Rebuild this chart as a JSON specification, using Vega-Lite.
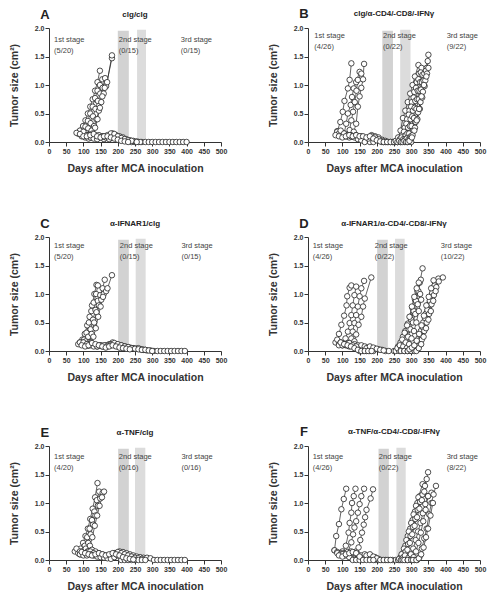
{
"$schema":"https://vega.github.io/schema/vega-lite/v6.json",
"padding":{"left":9,"top":7,"right":2,"bottom":2},
"config":{"font":"Liberation Sans","view":{"stroke":null},
"axis":{"grid":false,"domainColor":"#333","tickColor":"#333","labelColor":"#333","labelFontWeight":"bold","labelFontSize":7,"labelFlush":false,"labelOverlap":false,"tickSize":4,"labelPadding":1,"titleFontWeight":"bold","titleFontSize":10.5,"titleColor":"#333"},
"axisY":{"titlePadding":15},"axisX":{"titlePadding":9}},
"spacing":{"row":43,"column":41},
"columns":2,
"datasets":{
"A":[
{"id":1,"day":85,"size":0.15},{"id":1,"day":92,"size":0.2},{"id":1,"day":99,"size":0.28},{"id":1,"day":106,"size":0.38},{"id":1,"day":113,"size":0.5},{"id":1,"day":120,"size":0.62},{"id":1,"day":127,"size":0.75},{"id":1,"day":134,"size":0.9},{"id":1,"day":141,"size":1.05},{"id":1,"day":148,"size":1.25},
{"id":2,"day":92,"size":0.17},{"id":2,"day":99,"size":0.2},{"id":2,"day":106,"size":0.27},{"id":2,"day":113,"size":0.37},{"id":2,"day":120,"size":0.5},{"id":2,"day":127,"size":0.62},{"id":2,"day":134,"size":0.77},{"id":2,"day":141,"size":0.9},{"id":2,"day":148,"size":1.0},{"id":2,"day":155,"size":1.1},
{"id":3,"day":100,"size":0.12},{"id":3,"day":107,"size":0.17},{"id":3,"day":114,"size":0.24},{"id":3,"day":121,"size":0.33},{"id":3,"day":128,"size":0.45},{"id":3,"day":135,"size":0.58},{"id":3,"day":142,"size":0.72},{"id":3,"day":149,"size":0.85},{"id":3,"day":156,"size":0.95},{"id":3,"day":163,"size":1.12},
{"id":4,"day":110,"size":0.1},{"id":4,"day":117,"size":0.13},{"id":4,"day":124,"size":0.2},{"id":4,"day":131,"size":0.28},{"id":4,"day":138,"size":0.4},{"id":4,"day":145,"size":0.55},{"id":4,"day":152,"size":0.7},{"id":4,"day":159,"size":0.85},{"id":4,"day":166,"size":0.98},{"id":4,"day":183,"size":1.47},
{"id":5,"day":120,"size":0.12},{"id":5,"day":127,"size":0.15},{"id":5,"day":134,"size":0.25},{"id":5,"day":141,"size":0.4},{"id":5,"day":148,"size":0.6},{"id":5,"day":155,"size":0.8},{"id":5,"day":162,"size":0.95},{"id":5,"day":169,"size":1.05},{"id":5,"day":183,"size":1.52},
{"id":6,"day":85,"size":0.15},{"id":6,"day":95,"size":0.12},{"id":6,"day":105,"size":0.1},{"id":6,"day":115,"size":0.08},{"id":6,"day":125,"size":0.1},{"id":6,"day":135,"size":0.12},{"id":6,"day":145,"size":0.1},{"id":6,"day":155,"size":0.1},{"id":6,"day":165,"size":0.08},{"id":6,"day":175,"size":0.1},{"id":6,"day":185,"size":0.15},{"id":6,"day":195,"size":0.12},{"id":6,"day":205,"size":0.08},{"id":6,"day":215,"size":0.05},{"id":6,"day":225,"size":0.03},{"id":6,"day":235,"size":0.02},{"id":6,"day":245,"size":0.01},{"id":6,"day":250,"size":0},{"id":6,"day":260,"size":0},{"id":6,"day":270,"size":0},{"id":6,"day":280,"size":0},{"id":6,"day":290,"size":0},{"id":6,"day":300,"size":0},{"id":6,"day":310,"size":0},{"id":6,"day":320,"size":0},{"id":6,"day":330,"size":0},{"id":6,"day":340,"size":0},{"id":6,"day":350,"size":0},{"id":6,"day":360,"size":0},{"id":6,"day":370,"size":0},{"id":6,"day":380,"size":0},{"id":6,"day":390,"size":0},{"id":6,"day":400,"size":0},
{"id":7,"day":90,"size":0.2},{"id":7,"day":100,"size":0.15},{"id":7,"day":110,"size":0.12},{"id":7,"day":120,"size":0.1},{"id":7,"day":130,"size":0.1},{"id":7,"day":140,"size":0.08},{"id":7,"day":150,"size":0.1},{"id":7,"day":160,"size":0.05},{"id":7,"day":170,"size":0.08},{"id":7,"day":180,"size":0.12},{"id":7,"day":190,"size":0.1},{"id":7,"day":200,"size":0.08},{"id":7,"day":210,"size":0.06},{"id":7,"day":220,"size":0.04},{"id":7,"day":230,"size":0.02},{"id":7,"day":240,"size":0},
{"id":8,"day":95,"size":0.1},{"id":8,"day":105,"size":0.08},{"id":8,"day":115,"size":0.06},{"id":8,"day":125,"size":0.08},{"id":8,"day":135,"size":0.1},{"id":8,"day":145,"size":0.12},{"id":8,"day":155,"size":0.1},{"id":8,"day":165,"size":0.08},{"id":8,"day":175,"size":0.05},{"id":8,"day":185,"size":0.08},{"id":8,"day":195,"size":0.1},{"id":8,"day":205,"size":0.1},{"id":8,"day":215,"size":0.08},{"id":8,"day":225,"size":0.05},{"id":8,"day":235,"size":0.03},{"id":8,"day":245,"size":0.02},{"id":8,"day":255,"size":0.01},{"id":8,"day":265,"size":0},
{"id":9,"day":100,"size":0.18},{"id":9,"day":110,"size":0.12},{"id":9,"day":120,"size":0.08},{"id":9,"day":130,"size":0.06},{"id":9,"day":140,"size":0.05},{"id":9,"day":150,"size":0.08},{"id":9,"day":160,"size":0.1},{"id":9,"day":170,"size":0.12},{"id":9,"day":180,"size":0.15},{"id":9,"day":190,"size":0.14},{"id":9,"day":200,"size":0.1},{"id":9,"day":210,"size":0.07},{"id":9,"day":220,"size":0.05},{"id":9,"day":230,"size":0.03},{"id":9,"day":240,"size":0.02},{"id":9,"day":255,"size":0},
{"id":10,"day":80,"size":0.16},{"id":10,"day":90,"size":0.14},{"id":10,"day":100,"size":0.1},{"id":10,"day":110,"size":0.1},{"id":10,"day":120,"size":0.12},{"id":10,"day":130,"size":0.14},{"id":10,"day":140,"size":0.1},{"id":10,"day":150,"size":0.08},{"id":10,"day":160,"size":0.1},{"id":10,"day":170,"size":0.1},{"id":10,"day":180,"size":0.08},{"id":10,"day":190,"size":0.06},{"id":10,"day":200,"size":0.04},{"id":10,"day":210,"size":0.02},{"id":10,"day":220,"size":0.01},{"id":10,"day":230,"size":0}
],
"B":[
{"id":1,"day":85,"size":0.19},{"id":1,"day":94,"size":0.35},{"id":1,"day":101,"size":0.53},{"id":1,"day":106,"size":0.72},{"id":1,"day":116,"size":0.94},{"id":1,"day":121,"size":1.09},{"id":1,"day":126,"size":1.38},
{"id":2,"day":105,"size":0.15},{"id":2,"day":111,"size":0.32},{"id":2,"day":116,"size":0.5},{"id":2,"day":124,"size":0.65},{"id":2,"day":128,"size":0.79},{"id":2,"day":133,"size":0.94},{"id":2,"day":140,"size":1.05},{"id":2,"day":150,"size":1.23},
{"id":3,"day":115,"size":0.12},{"id":3,"day":121,"size":0.21},{"id":3,"day":126,"size":0.38},{"id":3,"day":131,"size":0.53},{"id":3,"day":136,"size":0.7},{"id":3,"day":141,"size":0.9},{"id":3,"day":145,"size":1.09},{"id":3,"day":155,"size":1.2},
{"id":4,"day":125,"size":0.1},{"id":4,"day":133,"size":0.18},{"id":4,"day":140,"size":0.32},{"id":4,"day":145,"size":0.62},{"id":4,"day":150,"size":0.8},{"id":4,"day":155,"size":0.95},{"id":4,"day":160,"size":1.1},{"id":4,"day":163,"size":1.37},
{"id":5,"day":85,"size":0.18},{"id":5,"day":95,"size":0.15},{"id":5,"day":105,"size":0.12},{"id":5,"day":115,"size":0.1},{"id":5,"day":125,"size":0.12},{"id":5,"day":135,"size":0.1},{"id":5,"day":145,"size":0.08},{"id":5,"day":155,"size":0.1},{"id":5,"day":165,"size":0.05},{"id":5,"day":175,"size":0.08},{"id":5,"day":185,"size":0.12},{"id":5,"day":195,"size":0.1},{"id":5,"day":205,"size":0.08},{"id":5,"day":215,"size":0.04},{"id":5,"day":225,"size":0.02},{"id":5,"day":235,"size":0},{"id":5,"day":245,"size":0},{"id":5,"day":255,"size":0},
{"id":6,"day":90,"size":0.15},{"id":6,"day":100,"size":0.12},{"id":6,"day":110,"size":0.1},{"id":6,"day":120,"size":0.08},{"id":6,"day":130,"size":0.1},{"id":6,"day":140,"size":0.12},{"id":6,"day":150,"size":0.1},{"id":6,"day":160,"size":0.08},{"id":6,"day":170,"size":0.03},{"id":6,"day":180,"size":0},{"id":6,"day":190,"size":0},{"id":6,"day":200,"size":0.05},{"id":6,"day":210,"size":0.03},{"id":6,"day":220,"size":0},{"id":6,"day":230,"size":0},{"id":6,"day":240,"size":0},{"id":6,"day":250,"size":0},{"id":6,"day":260,"size":0},{"id":6,"day":270,"size":0},
{"id":7,"day":95,"size":0.2},{"id":7,"day":105,"size":0.15},{"id":7,"day":115,"size":0.12},{"id":7,"day":125,"size":0.1},{"id":7,"day":135,"size":0.08},{"id":7,"day":145,"size":0.05},{"id":7,"day":155,"size":0.03},{"id":7,"day":165,"size":0},{"id":7,"day":175,"size":0.06},{"id":7,"day":185,"size":0.1},{"id":7,"day":195,"size":0.08},{"id":7,"day":205,"size":0.05},{"id":7,"day":215,"size":0},{"id":7,"day":225,"size":0},
{"id":8,"day":80,"size":0.12},{"id":8,"day":90,"size":0.1},{"id":8,"day":100,"size":0.08},{"id":8,"day":110,"size":0.1},{"id":8,"day":120,"size":0.12},{"id":8,"day":130,"size":0.1},{"id":8,"day":140,"size":0.12},{"id":8,"day":150,"size":0.1},{"id":8,"day":160,"size":0.1},{"id":8,"day":170,"size":0.08},{"id":8,"day":180,"size":0.1},{"id":8,"day":190,"size":0.06},{"id":8,"day":200,"size":0.03},{"id":8,"day":210,"size":0.01},{"id":8,"day":220,"size":0},{"id":8,"day":230,"size":0},{"id":8,"day":240,"size":0},{"id":8,"day":250,"size":0},{"id":8,"day":260,"size":0},{"id":8,"day":270,"size":0},{"id":8,"day":280,"size":0},{"id":8,"day":290,"size":0},{"id":8,"day":300,"size":0},
{"id":11,"day":255,"size":0.02},{"id":11,"day":262,"size":0.08},{"id":11,"day":269,"size":0.2},{"id":11,"day":276,"size":0.42},{"id":11,"day":283,"size":0.55},{"id":11,"day":290,"size":0.7},{"id":11,"day":297,"size":0.85},{"id":11,"day":304,"size":1.0},{"id":11,"day":311,"size":1.15},{"id":11,"day":321,"size":1.35},
{"id":12,"day":260,"size":0},{"id":12,"day":267,"size":0.05},{"id":12,"day":274,"size":0.12},{"id":12,"day":281,"size":0.25},{"id":12,"day":288,"size":0.4},{"id":12,"day":295,"size":0.55},{"id":12,"day":302,"size":0.7},{"id":12,"day":309,"size":0.88},{"id":12,"day":316,"size":1.05},{"id":12,"day":323,"size":1.2},{"id":12,"day":330,"size":1.3},
{"id":13,"day":265,"size":0.02},{"id":13,"day":272,"size":0.08},{"id":13,"day":279,"size":0.18},{"id":13,"day":286,"size":0.32},{"id":13,"day":293,"size":0.48},{"id":13,"day":300,"size":0.62},{"id":13,"day":307,"size":0.78},{"id":13,"day":314,"size":0.95},{"id":13,"day":321,"size":1.1},{"id":13,"day":328,"size":1.22},
{"id":14,"day":270,"size":0},{"id":14,"day":277,"size":0.05},{"id":14,"day":284,"size":0.12},{"id":14,"day":291,"size":0.25},{"id":14,"day":298,"size":0.4},{"id":14,"day":305,"size":0.55},{"id":14,"day":312,"size":0.72},{"id":14,"day":319,"size":0.9},{"id":14,"day":326,"size":1.05},{"id":14,"day":333,"size":1.18},
{"id":15,"day":275,"size":0},{"id":15,"day":282,"size":0.05},{"id":15,"day":289,"size":0.15},{"id":15,"day":296,"size":0.28},{"id":15,"day":303,"size":0.45},{"id":15,"day":310,"size":0.6},{"id":15,"day":317,"size":0.75},{"id":15,"day":324,"size":0.9},{"id":15,"day":331,"size":1.05},{"id":15,"day":338,"size":1.2},{"id":15,"day":345,"size":1.3},
{"id":16,"day":280,"size":0.02},{"id":16,"day":287,"size":0.06},{"id":16,"day":294,"size":0.15},{"id":16,"day":301,"size":0.28},{"id":16,"day":308,"size":0.42},{"id":16,"day":315,"size":0.58},{"id":16,"day":322,"size":0.75},{"id":16,"day":329,"size":0.92},{"id":16,"day":336,"size":1.08},{"id":16,"day":343,"size":1.25},{"id":16,"day":350,"size":1.53},
{"id":17,"day":285,"size":0},{"id":17,"day":292,"size":0.04},{"id":17,"day":299,"size":0.1},{"id":17,"day":306,"size":0.2},{"id":17,"day":313,"size":0.35},{"id":17,"day":320,"size":0.52},{"id":17,"day":327,"size":0.7},{"id":17,"day":334,"size":0.88},{"id":17,"day":341,"size":1.08},{"id":17,"day":348,"size":1.42},
{"id":18,"day":290,"size":0},{"id":18,"day":297,"size":0.05},{"id":18,"day":304,"size":0.12},{"id":18,"day":311,"size":0.25},{"id":18,"day":318,"size":0.4},{"id":18,"day":325,"size":0.58},{"id":18,"day":332,"size":0.78},{"id":18,"day":339,"size":0.98},{"id":18,"day":346,"size":1.2},
{"id":19,"day":295,"size":0.02},{"id":19,"day":302,"size":0.08},{"id":19,"day":309,"size":0.2},{"id":19,"day":316,"size":0.38},{"id":19,"day":323,"size":0.58},{"id":19,"day":330,"size":0.8},{"id":19,"day":337,"size":1.0},{"id":19,"day":344,"size":1.15},{"id":19,"day":350,"size":1.3}
],
"C":[
{"id":1,"day":90,"size":0.15},{"id":1,"day":97,"size":0.2},{"id":1,"day":104,"size":0.3},{"id":1,"day":111,"size":0.45},{"id":1,"day":118,"size":0.6},{"id":1,"day":125,"size":0.8},{"id":1,"day":132,"size":1.0},{"id":1,"day":138,"size":1.16},
{"id":2,"day":95,"size":0.12},{"id":2,"day":102,"size":0.2},{"id":2,"day":109,"size":0.32},{"id":2,"day":116,"size":0.5},{"id":2,"day":123,"size":0.7},{"id":2,"day":130,"size":0.85},{"id":2,"day":137,"size":1.0},{"id":2,"day":142,"size":1.15},
{"id":3,"day":100,"size":0.12},{"id":3,"day":107,"size":0.17},{"id":3,"day":114,"size":0.25},{"id":3,"day":121,"size":0.38},{"id":3,"day":128,"size":0.55},{"id":3,"day":135,"size":0.72},{"id":3,"day":142,"size":0.88},{"id":3,"day":149,"size":0.98},{"id":3,"day":156,"size":1.1},{"id":3,"day":162,"size":1.25},
{"id":4,"day":110,"size":0.1},{"id":4,"day":117,"size":0.15},{"id":4,"day":124,"size":0.3},{"id":4,"day":131,"size":0.5},{"id":4,"day":138,"size":0.68},{"id":4,"day":145,"size":0.8},{"id":4,"day":152,"size":0.9},{"id":4,"day":159,"size":1.0},{"id":4,"day":166,"size":1.05},
{"id":5,"day":115,"size":0.1},{"id":5,"day":122,"size":0.15},{"id":5,"day":129,"size":0.25},{"id":5,"day":136,"size":0.4},{"id":5,"day":143,"size":0.6},{"id":5,"day":150,"size":0.78},{"id":5,"day":157,"size":0.95},{"id":5,"day":170,"size":1.1},{"id":5,"day":183,"size":1.33},
{"id":6,"day":85,"size":0.12},{"id":6,"day":95,"size":0.15},{"id":6,"day":105,"size":0.12},{"id":6,"day":115,"size":0.1},{"id":6,"day":125,"size":0.12},{"id":6,"day":135,"size":0.1},{"id":6,"day":145,"size":0.1},{"id":6,"day":155,"size":0.08},{"id":6,"day":165,"size":0.1},{"id":6,"day":175,"size":0.12},{"id":6,"day":185,"size":0.15},{"id":6,"day":195,"size":0.12},{"id":6,"day":205,"size":0.1},{"id":6,"day":215,"size":0.08},{"id":6,"day":225,"size":0.07},{"id":6,"day":235,"size":0.06},{"id":6,"day":245,"size":0.05},{"id":6,"day":255,"size":0.04},{"id":6,"day":265,"size":0.03},{"id":6,"day":275,"size":0.02},{"id":6,"day":285,"size":0.01},{"id":6,"day":295,"size":0.01},{"id":6,"day":305,"size":0},{"id":6,"day":315,"size":0},{"id":6,"day":325,"size":0},{"id":6,"day":335,"size":0},{"id":6,"day":345,"size":0},{"id":6,"day":355,"size":0},{"id":6,"day":365,"size":0},{"id":6,"day":375,"size":0},{"id":6,"day":385,"size":0},{"id":6,"day":395,"size":0},
{"id":7,"day":90,"size":0.15},{"id":7,"day":100,"size":0.12},{"id":7,"day":110,"size":0.1},{"id":7,"day":120,"size":0.12},{"id":7,"day":130,"size":0.1},{"id":7,"day":140,"size":0.08},{"id":7,"day":150,"size":0.1},{"id":7,"day":160,"size":0.08},{"id":7,"day":170,"size":0.1},{"id":7,"day":180,"size":0.12},{"id":7,"day":190,"size":0.1},{"id":7,"day":200,"size":0.08},{"id":7,"day":210,"size":0.1},{"id":7,"day":220,"size":0.08},{"id":7,"day":230,"size":0.06},{"id":7,"day":240,"size":0.05},{"id":7,"day":250,"size":0.04},{"id":7,"day":260,"size":0.05},{"id":7,"day":270,"size":0.03},{"id":7,"day":280,"size":0.02},
{"id":8,"day":100,"size":0.15},{"id":8,"day":110,"size":0.12},{"id":8,"day":120,"size":0.1},{"id":8,"day":130,"size":0.08},{"id":8,"day":140,"size":0.08},{"id":8,"day":150,"size":0.1},{"id":8,"day":160,"size":0.1},{"id":8,"day":170,"size":0.08},{"id":8,"day":180,"size":0.1},{"id":8,"day":190,"size":0.14},{"id":8,"day":200,"size":0.12},{"id":8,"day":210,"size":0.1},{"id":8,"day":220,"size":0.08},{"id":8,"day":230,"size":0.07},{"id":8,"day":240,"size":0.05},{"id":8,"day":250,"size":0.04},{"id":8,"day":260,"size":0.03},{"id":8,"day":270,"size":0.02},{"id":8,"day":280,"size":0.02},{"id":8,"day":290,"size":0.01},{"id":8,"day":300,"size":0},
{"id":9,"day":95,"size":0.1},{"id":9,"day":105,"size":0.08},{"id":9,"day":115,"size":0.1},{"id":9,"day":125,"size":0.14},{"id":9,"day":135,"size":0.12},{"id":9,"day":145,"size":0.1},{"id":9,"day":155,"size":0.08},{"id":9,"day":165,"size":0.06},{"id":9,"day":175,"size":0.08},{"id":9,"day":185,"size":0.1},{"id":9,"day":195,"size":0.08},{"id":9,"day":205,"size":0.06},{"id":9,"day":215,"size":0.05},{"id":9,"day":225,"size":0.04},{"id":9,"day":235,"size":0.03}
],
"D":[
{"id":1,"day":85,"size":0.15},{"id":1,"day":90,"size":0.3},{"id":1,"day":97,"size":0.46},{"id":1,"day":105,"size":0.62},{"id":1,"day":112,"size":0.8},{"id":1,"day":114,"size":0.96},{"id":1,"day":121,"size":1.11},{"id":1,"day":126,"size":1.15},
{"id":2,"day":97,"size":0.14},{"id":2,"day":109,"size":0.22},{"id":2,"day":116,"size":0.34},{"id":2,"day":121,"size":0.49},{"id":2,"day":126,"size":0.63},{"id":2,"day":130,"size":0.8},{"id":2,"day":135,"size":0.98},{"id":2,"day":140,"size":1.13},
{"id":3,"day":116,"size":0.14},{"id":3,"day":126,"size":0.22},{"id":3,"day":130,"size":0.34},{"id":3,"day":135,"size":0.49},{"id":3,"day":140,"size":0.63},{"id":3,"day":145,"size":0.78},{"id":3,"day":150,"size":0.96},{"id":3,"day":155,"size":1.1},{"id":3,"day":163,"size":1.23},
{"id":4,"day":128,"size":0.1},{"id":4,"day":135,"size":0.17},{"id":4,"day":140,"size":0.29},{"id":4,"day":147,"size":0.46},{"id":4,"day":155,"size":0.6},{"id":4,"day":160,"size":0.78},{"id":4,"day":165,"size":0.92},{"id":4,"day":184,"size":1.29},
{"id":5,"day":80,"size":0.15},{"id":5,"day":90,"size":0.12},{"id":5,"day":100,"size":0.1},{"id":5,"day":110,"size":0.1},{"id":5,"day":120,"size":0.08},{"id":5,"day":130,"size":0.1},{"id":5,"day":140,"size":0.08},{"id":5,"day":150,"size":0.06},{"id":5,"day":160,"size":0.04},{"id":5,"day":170,"size":0},{"id":5,"day":180,"size":0},{"id":5,"day":190,"size":0},
{"id":6,"day":85,"size":0.2},{"id":6,"day":95,"size":0.15},{"id":6,"day":105,"size":0.12},{"id":6,"day":115,"size":0.1},{"id":6,"day":125,"size":0.1},{"id":6,"day":135,"size":0.12},{"id":6,"day":145,"size":0.1},{"id":6,"day":155,"size":0.1},{"id":6,"day":165,"size":0.08},{"id":6,"day":175,"size":0.06},{"id":6,"day":185,"size":0.05},{"id":6,"day":195,"size":0.04},{"id":6,"day":205,"size":0.03},{"id":6,"day":215,"size":0.02},{"id":6,"day":225,"size":0},{"id":6,"day":235,"size":0},
{"id":7,"day":90,"size":0.1},{"id":7,"day":100,"size":0.1},{"id":7,"day":110,"size":0.12},{"id":7,"day":120,"size":0.14},{"id":7,"day":130,"size":0.1},{"id":7,"day":140,"size":0.08},{"id":7,"day":150,"size":0},{"id":7,"day":160,"size":0},{"id":7,"day":170,"size":0.05},{"id":7,"day":180,"size":0.08},{"id":7,"day":190,"size":0.06},{"id":7,"day":200,"size":0.04},{"id":7,"day":210,"size":0.02},{"id":7,"day":220,"size":0.01},
{"id":8,"day":95,"size":0.15},{"id":8,"day":105,"size":0.12},{"id":8,"day":115,"size":0.1},{"id":8,"day":125,"size":0.08},{"id":8,"day":135,"size":0.05},{"id":8,"day":145,"size":0.02},{"id":8,"day":155,"size":0},{"id":8,"day":165,"size":0},{"id":8,"day":175,"size":0},{"id":8,"day":185,"size":0},
{"id":11,"day":250,"size":0},{"id":11,"day":255,"size":0},{"id":11,"day":262,"size":0.08},{"id":11,"day":269,"size":0.15},{"id":11,"day":276,"size":0.25},{"id":11,"day":283,"size":0.35},{"id":11,"day":290,"size":0.48},{"id":11,"day":297,"size":0.6},{"id":11,"day":304,"size":0.75},{"id":11,"day":311,"size":0.9},{"id":11,"day":318,"size":1.05},{"id":11,"day":325,"size":1.2},{"id":11,"day":333,"size":1.45},
{"id":12,"day":265,"size":0},{"id":12,"day":272,"size":0.05},{"id":12,"day":279,"size":0.12},{"id":12,"day":286,"size":0.22},{"id":12,"day":293,"size":0.38},{"id":12,"day":300,"size":0.55},{"id":12,"day":307,"size":0.7},{"id":12,"day":314,"size":0.88},{"id":12,"day":321,"size":1.05},{"id":12,"day":328,"size":1.25},
{"id":13,"day":260,"size":0.05},{"id":13,"day":267,"size":0.1},{"id":13,"day":274,"size":0.2},{"id":13,"day":281,"size":0.32},{"id":13,"day":288,"size":0.45},{"id":13,"day":295,"size":0.6},{"id":13,"day":302,"size":0.78},{"id":13,"day":309,"size":0.95},{"id":13,"day":316,"size":1.1},{"id":13,"day":322,"size":1.2},
{"id":14,"day":270,"size":0.02},{"id":14,"day":277,"size":0.08},{"id":14,"day":284,"size":0.15},{"id":14,"day":291,"size":0.25},{"id":14,"day":298,"size":0.38},{"id":14,"day":305,"size":0.5},{"id":14,"day":312,"size":0.65},{"id":14,"day":319,"size":0.82},{"id":14,"day":326,"size":1.0},
{"id":15,"day":270,"size":0},{"id":15,"day":280,"size":0},{"id":15,"day":287,"size":0.05},{"id":15,"day":294,"size":0.12},{"id":15,"day":301,"size":0.22},{"id":15,"day":308,"size":0.35},{"id":15,"day":315,"size":0.5},{"id":15,"day":322,"size":0.7},{"id":15,"day":329,"size":0.9},
{"id":16,"day":280,"size":0},{"id":16,"day":290,"size":0},{"id":16,"day":300,"size":0},{"id":16,"day":307,"size":0.05},{"id":16,"day":314,"size":0.12},{"id":16,"day":321,"size":0.22},{"id":16,"day":328,"size":0.35},{"id":16,"day":335,"size":0.5},{"id":16,"day":342,"size":0.65},{"id":16,"day":349,"size":0.8},{"id":16,"day":356,"size":0.95},{"id":16,"day":363,"size":1.1},{"id":16,"day":370,"size":1.2},{"id":16,"day":379,"size":1.27},
{"id":17,"day":305,"size":0.02},{"id":17,"day":312,"size":0.08},{"id":17,"day":319,"size":0.15},{"id":17,"day":326,"size":0.28},{"id":17,"day":333,"size":0.42},{"id":17,"day":340,"size":0.58},{"id":17,"day":347,"size":0.72},{"id":17,"day":354,"size":0.88},{"id":17,"day":361,"size":1.02},{"id":17,"day":368,"size":1.15},
{"id":18,"day":290,"size":0},{"id":18,"day":300,"size":0},{"id":18,"day":310,"size":0},{"id":18,"day":317,"size":0.03},{"id":18,"day":324,"size":0.1},{"id":18,"day":331,"size":0.2},{"id":18,"day":338,"size":0.35},{"id":18,"day":345,"size":0.5},{"id":18,"day":352,"size":0.65},{"id":18,"day":359,"size":0.82},{"id":18,"day":366,"size":0.98},{"id":18,"day":373,"size":1.12},{"id":18,"day":380,"size":1.22},{"id":18,"day":392,"size":1.29},
{"id":19,"day":315,"size":0},{"id":19,"day":322,"size":0.05},{"id":19,"day":329,"size":0.12},{"id":19,"day":336,"size":0.25},{"id":19,"day":343,"size":0.4},{"id":19,"day":350,"size":0.55},{"id":19,"day":357,"size":0.7},{"id":19,"day":364,"size":0.88},{"id":19,"day":371,"size":1.05},
{"id":20,"day":295,"size":0.03},{"id":20,"day":302,"size":0.06},{"id":20,"day":309,"size":0.1},{"id":20,"day":316,"size":0.18},{"id":20,"day":323,"size":0.3},{"id":20,"day":330,"size":0.45},{"id":20,"day":337,"size":0.62},{"id":20,"day":344,"size":0.8},{"id":20,"day":351,"size":0.95},{"id":20,"day":358,"size":1.1},{"id":20,"day":365,"size":1.24}
],
"E":[
{"id":1,"day":85,"size":0.15},{"id":1,"day":92,"size":0.2},{"id":1,"day":99,"size":0.3},{"id":1,"day":106,"size":0.42},{"id":1,"day":113,"size":0.55},{"id":1,"day":120,"size":0.72},{"id":1,"day":127,"size":0.9},{"id":1,"day":134,"size":1.1},{"id":1,"day":141,"size":1.35},
{"id":2,"day":90,"size":0.1},{"id":2,"day":97,"size":0.15},{"id":2,"day":104,"size":0.25},{"id":2,"day":111,"size":0.4},{"id":2,"day":118,"size":0.55},{"id":2,"day":125,"size":0.7},{"id":2,"day":132,"size":0.85},{"id":2,"day":139,"size":1.05},{"id":2,"day":146,"size":1.2},
{"id":3,"day":100,"size":0.12},{"id":3,"day":107,"size":0.2},{"id":3,"day":114,"size":0.3},{"id":3,"day":121,"size":0.45},{"id":3,"day":128,"size":0.62},{"id":3,"day":135,"size":0.78},{"id":3,"day":142,"size":0.95},{"id":3,"day":149,"size":1.08},{"id":3,"day":156,"size":1.18},
{"id":4,"day":105,"size":0.1},{"id":4,"day":112,"size":0.15},{"id":4,"day":119,"size":0.25},{"id":4,"day":126,"size":0.4},{"id":4,"day":133,"size":0.6},{"id":4,"day":140,"size":0.78},{"id":4,"day":147,"size":0.95},{"id":4,"day":154,"size":1.1},{"id":4,"day":160,"size":1.2},
{"id":6,"day":75,"size":0.15},{"id":6,"day":85,"size":0.12},{"id":6,"day":95,"size":0.1},{"id":6,"day":105,"size":0.12},{"id":6,"day":115,"size":0.15},{"id":6,"day":125,"size":0.18},{"id":6,"day":135,"size":0.15},{"id":6,"day":145,"size":0.12},{"id":6,"day":155,"size":0.1},{"id":6,"day":165,"size":0.08},{"id":6,"day":175,"size":0.06},{"id":6,"day":185,"size":0.1},{"id":6,"day":195,"size":0.12},{"id":6,"day":205,"size":0.15},{"id":6,"day":215,"size":0.14},{"id":6,"day":225,"size":0.12},{"id":6,"day":235,"size":0.1},{"id":6,"day":245,"size":0.08},{"id":6,"day":255,"size":0.06},{"id":6,"day":265,"size":0.05},{"id":6,"day":275,"size":0.04},{"id":6,"day":285,"size":0.04},{"id":6,"day":295,"size":0.03},{"id":6,"day":305,"size":0},{"id":6,"day":315,"size":0},{"id":6,"day":325,"size":0},{"id":6,"day":335,"size":0},{"id":6,"day":345,"size":0},{"id":6,"day":355,"size":0},{"id":6,"day":365,"size":0},{"id":6,"day":375,"size":0},{"id":6,"day":385,"size":0},{"id":6,"day":395,"size":0},
{"id":7,"day":80,"size":0.2},{"id":7,"day":90,"size":0.15},{"id":7,"day":100,"size":0.12},{"id":7,"day":110,"size":0.1},{"id":7,"day":120,"size":0.15},{"id":7,"day":130,"size":0.12},{"id":7,"day":140,"size":0.1},{"id":7,"day":150,"size":0.08},{"id":7,"day":160,"size":0.06},{"id":7,"day":170,"size":0.05},{"id":7,"day":180,"size":0.08},{"id":7,"day":190,"size":0.12},{"id":7,"day":200,"size":0.14},{"id":7,"day":210,"size":0.12},{"id":7,"day":220,"size":0.1},{"id":7,"day":230,"size":0.08},{"id":7,"day":240,"size":0.06},{"id":7,"day":250,"size":0.04},{"id":7,"day":260,"size":0.03},{"id":7,"day":270,"size":0.02},
{"id":8,"day":90,"size":0.1},{"id":8,"day":100,"size":0.08},{"id":8,"day":110,"size":0.08},{"id":8,"day":120,"size":0.1},{"id":8,"day":130,"size":0.08},{"id":8,"day":140,"size":0.06},{"id":8,"day":150,"size":0.05},{"id":8,"day":160,"size":0.04},{"id":8,"day":170,"size":0.03},{"id":8,"day":180,"size":0.02},{"id":8,"day":190,"size":0.05},{"id":8,"day":200,"size":0.08},{"id":8,"day":210,"size":0},{"id":8,"day":220,"size":0},{"id":8,"day":230,"size":0},{"id":8,"day":240,"size":0},{"id":8,"day":250,"size":0},{"id":8,"day":260,"size":0},{"id":8,"day":270,"size":0},{"id":8,"day":280,"size":0},
{"id":9,"day":95,"size":0.14},{"id":9,"day":105,"size":0.12},{"id":9,"day":115,"size":0.1},{"id":9,"day":125,"size":0.08},{"id":9,"day":135,"size":0.1},{"id":9,"day":145,"size":0.12},{"id":9,"day":155,"size":0.1},{"id":9,"day":165,"size":0.08},{"id":9,"day":175,"size":0.1},{"id":9,"day":185,"size":0.12},{"id":9,"day":195,"size":0.1},{"id":9,"day":205,"size":0.08},{"id":9,"day":215,"size":0.05},{"id":9,"day":225,"size":0.03},{"id":9,"day":235,"size":0.02},{"id":9,"day":245,"size":0.01}
],
"F":[
{"id":1,"day":77,"size":0.17},{"id":1,"day":82,"size":0.42},{"id":1,"day":90,"size":0.63},{"id":1,"day":97,"size":0.89},{"id":1,"day":104,"size":1.07},{"id":1,"day":111,"size":1.25},
{"id":2,"day":100,"size":0.15},{"id":2,"day":110,"size":0.25},{"id":2,"day":118,"size":0.48},{"id":2,"day":121,"size":0.65},{"id":2,"day":126,"size":0.83},{"id":2,"day":128,"size":1.0},{"id":2,"day":133,"size":1.12},{"id":2,"day":138,"size":1.25},
{"id":3,"day":115,"size":0.12},{"id":3,"day":126,"size":0.31},{"id":3,"day":131,"size":0.45},{"id":3,"day":135,"size":0.57},{"id":3,"day":140,"size":0.68},{"id":3,"day":145,"size":0.83},{"id":3,"day":150,"size":0.98},{"id":3,"day":155,"size":1.12},{"id":3,"day":163,"size":1.25},
{"id":4,"day":140,"size":0.15},{"id":4,"day":147,"size":0.22},{"id":4,"day":152,"size":0.35},{"id":4,"day":157,"size":0.48},{"id":4,"day":162,"size":0.62},{"id":4,"day":166,"size":0.75},{"id":4,"day":170,"size":0.88},{"id":4,"day":182,"size":1.08},{"id":4,"day":189,"size":1.24},
{"id":5,"day":77,"size":0.17},{"id":5,"day":85,"size":0.14},{"id":5,"day":95,"size":0.12},{"id":5,"day":105,"size":0.12},{"id":5,"day":115,"size":0.1},{"id":5,"day":125,"size":0.12},{"id":5,"day":135,"size":0.1},{"id":5,"day":145,"size":0.08},{"id":5,"day":155,"size":0.06},{"id":5,"day":165,"size":0.05},{"id":5,"day":175,"size":0.04},{"id":5,"day":185,"size":0.06},{"id":5,"day":195,"size":0.05},{"id":5,"day":205,"size":0.02},{"id":5,"day":215,"size":0},{"id":5,"day":225,"size":0},{"id":5,"day":235,"size":0},{"id":5,"day":245,"size":0},{"id":5,"day":255,"size":0},{"id":5,"day":265,"size":0},
{"id":6,"day":85,"size":0.12},{"id":6,"day":95,"size":0.1},{"id":6,"day":105,"size":0.1},{"id":6,"day":115,"size":0.14},{"id":6,"day":125,"size":0.15},{"id":6,"day":135,"size":0.12},{"id":6,"day":145,"size":0.1},{"id":6,"day":155,"size":0.08},{"id":6,"day":165,"size":0.1},{"id":6,"day":175,"size":0.05},{"id":6,"day":185,"size":0.02},{"id":6,"day":195,"size":0},{"id":6,"day":205,"size":0},
{"id":7,"day":100,"size":0.1},{"id":7,"day":110,"size":0.08},{"id":7,"day":120,"size":0.05},{"id":7,"day":130,"size":0},{"id":7,"day":140,"size":0},{"id":7,"day":150,"size":0},{"id":7,"day":160,"size":0.02},{"id":7,"day":170,"size":0.08},{"id":7,"day":180,"size":0.1},{"id":7,"day":190,"size":0.06},{"id":7,"day":200,"size":0.03},{"id":7,"day":210,"size":0},{"id":7,"day":220,"size":0},{"id":7,"day":230,"size":0},{"id":7,"day":240,"size":0},
{"id":8,"day":90,"size":0.08},{"id":8,"day":100,"size":0.06},{"id":8,"day":110,"size":0.1},{"id":8,"day":120,"size":0.12},{"id":8,"day":130,"size":0.14},{"id":8,"day":140,"size":0.12},{"id":8,"day":150,"size":0.06},{"id":8,"day":160,"size":0},{"id":8,"day":170,"size":0},{"id":8,"day":180,"size":0},{"id":8,"day":190,"size":0},
{"id":11,"day":262,"size":0},{"id":11,"day":269,"size":0.05},{"id":11,"day":276,"size":0.12},{"id":11,"day":283,"size":0.25},{"id":11,"day":290,"size":0.42},{"id":11,"day":297,"size":0.55},{"id":11,"day":304,"size":0.7},{"id":11,"day":311,"size":0.85},{"id":11,"day":318,"size":1.0},{"id":11,"day":325,"size":1.12},
{"id":12,"day":265,"size":0.02},{"id":12,"day":272,"size":0.1},{"id":12,"day":279,"size":0.2},{"id":12,"day":286,"size":0.35},{"id":12,"day":293,"size":0.5},{"id":12,"day":300,"size":0.65},{"id":12,"day":307,"size":0.8},{"id":12,"day":314,"size":0.95},{"id":12,"day":321,"size":1.1},{"id":12,"day":333,"size":1.33},
{"id":13,"day":270,"size":0},{"id":13,"day":277,"size":0.05},{"id":13,"day":284,"size":0.15},{"id":13,"day":291,"size":0.28},{"id":13,"day":298,"size":0.42},{"id":13,"day":305,"size":0.58},{"id":13,"day":312,"size":0.72},{"id":13,"day":319,"size":0.88},{"id":13,"day":326,"size":1.02},{"id":13,"day":333,"size":1.15},{"id":13,"day":340,"size":1.3},{"id":13,"day":349,"size":1.54},
{"id":14,"day":275,"size":0.03},{"id":14,"day":282,"size":0.08},{"id":14,"day":289,"size":0.18},{"id":14,"day":296,"size":0.3},{"id":14,"day":303,"size":0.45},{"id":14,"day":310,"size":0.6},{"id":14,"day":317,"size":0.75},{"id":14,"day":324,"size":0.9},{"id":14,"day":331,"size":1.05},{"id":14,"day":338,"size":1.2},{"id":14,"day":345,"size":1.42},
{"id":15,"day":275,"size":0},{"id":15,"day":285,"size":0},{"id":15,"day":292,"size":0.04},{"id":15,"day":299,"size":0.1},{"id":15,"day":306,"size":0.2},{"id":15,"day":313,"size":0.35},{"id":15,"day":320,"size":0.5},{"id":15,"day":327,"size":0.65},{"id":15,"day":334,"size":0.82},{"id":15,"day":341,"size":0.98},{"id":15,"day":348,"size":1.12},{"id":15,"day":359,"size":1.18},
{"id":16,"day":280,"size":0},{"id":16,"day":290,"size":0},{"id":16,"day":300,"size":0},{"id":16,"day":307,"size":0.05},{"id":16,"day":314,"size":0.15},{"id":16,"day":321,"size":0.3},{"id":16,"day":328,"size":0.48},{"id":16,"day":335,"size":0.68},{"id":16,"day":342,"size":0.88},{"id":16,"day":349,"size":1.12},
{"id":17,"day":290,"size":0},{"id":17,"day":300,"size":0},{"id":17,"day":310,"size":0},{"id":17,"day":317,"size":0},{"id":17,"day":324,"size":0.05},{"id":17,"day":331,"size":0.2},{"id":17,"day":338,"size":0.38},{"id":17,"day":345,"size":0.55},{"id":17,"day":352,"size":0.8},{"id":17,"day":359,"size":1.0},{"id":17,"day":365,"size":1.15},{"id":17,"day":372,"size":1.3},
{"id":18,"day":305,"size":0},{"id":18,"day":315,"size":0},{"id":18,"day":322,"size":0.03},{"id":18,"day":329,"size":0.1},{"id":18,"day":336,"size":0.22},{"id":18,"day":343,"size":0.4},{"id":18,"day":349,"size":0.55},{"id":18,"day":356,"size":0.78},{"id":18,"day":363,"size":1.0}
]
},
"concat":[
{"width":172,"height":114,
"encoding":{"x":{"field":"day","type":"quantitative","scale":{"domain":[0,500]},"axis":{"values":[0,50,100,150,200,250,300,350,400,450,500],"title":"Days  after MCA inoculation"}},"y":{"field":"size","type":"quantitative","scale":{"domain":[0,2]},"axis":{"values":[0,0.5,1,1.5,2],"format":".1f","title":"Tumor size (cm²)"}}},
"layer":[
{"data":{"values":[{"day":200,"day2":232,"size":1.95,"k":"a"},{"day":256,"day2":282,"size":1.97,"k":"b"}]},"mark":{"type":"rect"},"encoding":{"x2":{"field":"day2"},"y2":{"datum":0},"color":{"field":"k","type":"nominal","scale":{"domain":["a","b"],"range":["#d2d2d2","#dcdcdc"]},"legend":null}}},
{"data":{"values":[{"day":14.5,"size":1.86,"label":"1st stage\n(5/20)"},{"day":203,"size":1.86,"label":"2nd stage\n(0/15)"},{"day":383,"size":1.86,"label":"3rd stage\n(0/15)"}]},"mark":{"type":"text","align":"left","baseline":"top","lineBreak":"\n","lineHeight":11,"fontSize":7.5,"color":"#444"},"encoding":{"text":{"field":"label"}}},
{"data":{"values":[{"day":-12,"size":2.23,"label":"A"},{"day":250,"size":2.23,"label":"clg/clg"}]},"mark":{"type":"text","baseline":"middle","fontWeight":"bold","color":"#222"},"encoding":{"text":{"field":"label"},"size":{"condition":{"test":"datum.label=='A'","value":13},"value":8},"align":{"condition":{"test":"datum.label=='A'","value":"left"},"value":"center"}}},
{"data":{"name":"A"},"mark":{"type":"line","color":"#222","strokeWidth":0.7},"encoding":{"detail":{"field":"id","type":"nominal"}}},
{"data":{"name":"A"},"mark":{"type":"point","shape":"circle","filled":true,"fill":"white","stroke":"#222","strokeWidth":0.8,"size":30,"opacity":1}}
]},
{"width":172,"height":114,
"encoding":{"x":{"field":"day","type":"quantitative","scale":{"domain":[0,500]},"axis":{"values":[0,50,100,150,200,250,300,350,400,450,500],"title":"Days  after MCA inoculation"}},"y":{"field":"size","type":"quantitative","scale":{"domain":[0,2]},"axis":{"values":[0,0.5,1,1.5,2],"format":".1f","title":"Tumor size (cm²)"}}},
"layer":[
{"data":{"values":[{"day":216,"day2":247,"size":1.95,"k":"a"},{"day":268,"day2":298,"size":1.97,"k":"b"}]},"mark":{"type":"rect"},"encoding":{"x2":{"field":"day2"},"y2":{"datum":0},"color":{"field":"k","type":"nominal","scale":{"domain":["a","b"],"range":["#d2d2d2","#dcdcdc"]},"legend":null}}},
{"data":{"values":[{"day":18.5,"size":1.93,"label":"1st stage\n(4/26)"},{"day":218,"size":1.93,"label":"2nd stage\n(0/22)"},{"day":403,"size":1.93,"label":"3rd stage\n(9/22)"}]},"mark":{"type":"text","align":"left","baseline":"top","lineBreak":"\n","lineHeight":11,"fontSize":7.5,"color":"#444"},"encoding":{"text":{"field":"label"}}},
{"data":{"values":[{"day":-12,"size":2.25,"label":"B"},{"day":250,"size":2.25,"label":"clg/α-CD4/-CD8/-IFNγ"}]},"mark":{"type":"text","baseline":"middle","fontWeight":"bold","color":"#222"},"encoding":{"text":{"field":"label"},"size":{"condition":{"test":"datum.label=='B'","value":13},"value":8},"align":{"condition":{"test":"datum.label=='B'","value":"left"},"value":"center"}}},
{"data":{"name":"B"},"mark":{"type":"line","color":"#222","strokeWidth":0.7},"encoding":{"detail":{"field":"id","type":"nominal"}}},
{"data":{"name":"B"},"mark":{"type":"point","shape":"circle","filled":true,"fill":"white","stroke":"#222","strokeWidth":0.8,"size":30,"opacity":1}}
]},
{"width":172,"height":114,
"encoding":{"x":{"field":"day","type":"quantitative","scale":{"domain":[0,500]},"axis":{"values":[0,50,100,150,200,250,300,350,400,450,500],"title":"Days  after MCA inoculation"}},"y":{"field":"size","type":"quantitative","scale":{"domain":[0,2]},"axis":{"values":[0,0.5,1,1.5,2],"format":".1f","title":"Tumor size (cm²)"}}},
"layer":[
{"data":{"values":[{"day":201,"day2":232,"size":1.95,"k":"a"},{"day":252,"day2":281,"size":1.97,"k":"b"}]},"mark":{"type":"rect"},"encoding":{"x2":{"field":"day2"},"y2":{"datum":0},"color":{"field":"k","type":"nominal","scale":{"domain":["a","b"],"range":["#d2d2d2","#dcdcdc"]},"legend":null}}},
{"data":{"values":[{"day":14.5,"size":1.91,"label":"1st stage\n(5/20)"},{"day":206,"size":1.91,"label":"2nd stage\n(0/15)"},{"day":385,"size":1.91,"label":"3rd stage\n(0/15)"}]},"mark":{"type":"text","align":"left","baseline":"top","lineBreak":"\n","lineHeight":11,"fontSize":7.5,"color":"#444"},"encoding":{"text":{"field":"label"}}},
{"data":{"values":[{"day":-12,"size":2.23,"label":"C"},{"day":250,"size":2.23,"label":"α-IFNAR1/clg"}]},"mark":{"type":"text","baseline":"middle","fontWeight":"bold","color":"#222"},"encoding":{"text":{"field":"label"},"size":{"condition":{"test":"datum.label=='C'","value":13},"value":8},"align":{"condition":{"test":"datum.label=='C'","value":"left"},"value":"center"}}},
{"data":{"name":"C"},"mark":{"type":"line","color":"#222","strokeWidth":0.7},"encoding":{"detail":{"field":"id","type":"nominal"}}},
{"data":{"name":"C"},"mark":{"type":"point","shape":"circle","filled":true,"fill":"white","stroke":"#222","strokeWidth":0.8,"size":30,"opacity":1}}
]},
{"width":172,"height":114,
"encoding":{"x":{"field":"day","type":"quantitative","scale":{"domain":[0,500]},"axis":{"values":[0,50,100,150,200,250,300,350,400,450,500],"title":"Days  after MCA inoculation"}},"y":{"field":"size","type":"quantitative","scale":{"domain":[0,2]},"axis":{"values":[0,0.5,1,1.5,2],"format":".1f","title":"Tumor size (cm²)"}}},
"layer":[
{"data":{"values":[{"day":201,"day2":232,"size":1.95,"k":"a"},{"day":253,"day2":281,"size":1.97,"k":"b"}]},"mark":{"type":"rect"},"encoding":{"x2":{"field":"day2"},"y2":{"datum":0},"color":{"field":"k","type":"nominal","scale":{"domain":["a","b"],"range":["#d2d2d2","#dcdcdc"]},"legend":null}}},
{"data":{"values":[{"day":13.6,"size":1.91,"label":"1st stage\n(4/26)"},{"day":194,"size":1.91,"label":"2nd stage\n(0/22)"},{"day":386,"size":1.91,"label":"3rd stage\n(10/22)"}]},"mark":{"type":"text","align":"left","baseline":"top","lineBreak":"\n","lineHeight":11,"fontSize":7.5,"color":"#444"},"encoding":{"text":{"field":"label"}}},
{"data":{"values":[{"day":-12,"size":2.23,"label":"D"},{"day":250,"size":2.23,"label":"α-IFNAR1/α-CD4/-CD8/-IFNγ"}]},"mark":{"type":"text","baseline":"middle","fontWeight":"bold","color":"#222"},"encoding":{"text":{"field":"label"},"size":{"condition":{"test":"datum.label=='D'","value":13},"value":8},"align":{"condition":{"test":"datum.label=='D'","value":"left"},"value":"center"}}},
{"data":{"name":"D"},"mark":{"type":"line","color":"#222","strokeWidth":0.7},"encoding":{"detail":{"field":"id","type":"nominal"}}},
{"data":{"name":"D"},"mark":{"type":"point","shape":"circle","filled":true,"fill":"white","stroke":"#222","strokeWidth":0.8,"size":30,"opacity":1}}
]},
{"width":172,"height":114,
"encoding":{"x":{"field":"day","type":"quantitative","scale":{"domain":[0,500]},"axis":{"values":[0,50,100,150,200,250,300,350,400,450,500],"title":"Days  after MCA inoculation"}},"y":{"field":"size","type":"quantitative","scale":{"domain":[0,2]},"axis":{"values":[0,0.5,1,1.5,2],"format":".1f","title":"Tumor size (cm²)"}}},
"layer":[
{"data":{"values":[{"day":201,"day2":232,"size":1.95,"k":"a"},{"day":250,"day2":280,"size":1.97,"k":"b"}]},"mark":{"type":"rect"},"encoding":{"x2":{"field":"day2"},"y2":{"datum":0},"color":{"field":"k","type":"nominal","scale":{"domain":["a","b"],"range":["#d2d2d2","#dcdcdc"]},"legend":null}}},
{"data":{"values":[{"day":14.5,"size":1.87,"label":"1st stage\n(4/20)"},{"day":203,"size":1.87,"label":"2nd stage\n(0/16)"},{"day":385,"size":1.87,"label":"3rd stage\n(0/16)"}]},"mark":{"type":"text","align":"left","baseline":"top","lineBreak":"\n","lineHeight":11,"fontSize":7.5,"color":"#444"},"encoding":{"text":{"field":"label"}}},
{"data":{"values":[{"day":-12,"size":2.22,"label":"E"},{"day":250,"size":2.22,"label":"α-TNF/clg"}]},"mark":{"type":"text","baseline":"middle","fontWeight":"bold","color":"#222"},"encoding":{"text":{"field":"label"},"size":{"condition":{"test":"datum.label=='E'","value":13},"value":8},"align":{"condition":{"test":"datum.label=='E'","value":"left"},"value":"center"}}},
{"data":{"name":"E"},"mark":{"type":"line","color":"#222","strokeWidth":0.7},"encoding":{"detail":{"field":"id","type":"nominal"}}},
{"data":{"name":"E"},"mark":{"type":"point","shape":"circle","filled":true,"fill":"white","stroke":"#222","strokeWidth":0.8,"size":30,"opacity":1}}
]},
{"width":172,"height":114,
"encoding":{"x":{"field":"day","type":"quantitative","scale":{"domain":[0,500]},"axis":{"values":[0,50,100,150,200,250,300,350,400,450,500],"title":"Days  after MCA inoculation"}},"y":{"field":"size","type":"quantitative","scale":{"domain":[0,2]},"axis":{"values":[0,0.5,1,1.5,2],"format":".1f","title":"Tumor size (cm²)"}}},
"layer":[
{"data":{"values":[{"day":205,"day2":235,"size":1.95,"k":"a"},{"day":257,"day2":284,"size":1.97,"k":"b"}]},"mark":{"type":"rect"},"encoding":{"x2":{"field":"day2"},"y2":{"datum":0},"color":{"field":"k","type":"nominal","scale":{"domain":["a","b"],"range":["#d2d2d2","#dcdcdc"]},"legend":null}}},
{"data":{"values":[{"day":13.6,"size":1.87,"label":"1st stage\n(4/26)"},{"day":206,"size":1.87,"label":"2nd stage\n(0/22)"},{"day":403,"size":1.87,"label":"3rd stage\n(8/22)"}]},"mark":{"type":"text","align":"left","baseline":"top","lineBreak":"\n","lineHeight":11,"fontSize":7.5,"color":"#444"},"encoding":{"text":{"field":"label"}}},
{"data":{"values":[{"day":-12,"size":2.24,"label":"F"},{"day":250,"size":2.24,"label":"α-TNF/α-CD4/-CD8/-IFNγ"}]},"mark":{"type":"text","baseline":"middle","fontWeight":"bold","color":"#222"},"encoding":{"text":{"field":"label"},"size":{"condition":{"test":"datum.label=='F'","value":13},"value":8},"align":{"condition":{"test":"datum.label=='F'","value":"left"},"value":"center"}}},
{"data":{"name":"F"},"mark":{"type":"line","color":"#222","strokeWidth":0.7},"encoding":{"detail":{"field":"id","type":"nominal"}}},
{"data":{"name":"F"},"mark":{"type":"point","shape":"circle","filled":true,"fill":"white","stroke":"#222","strokeWidth":0.8,"size":30,"opacity":1}}
]}
]
}
